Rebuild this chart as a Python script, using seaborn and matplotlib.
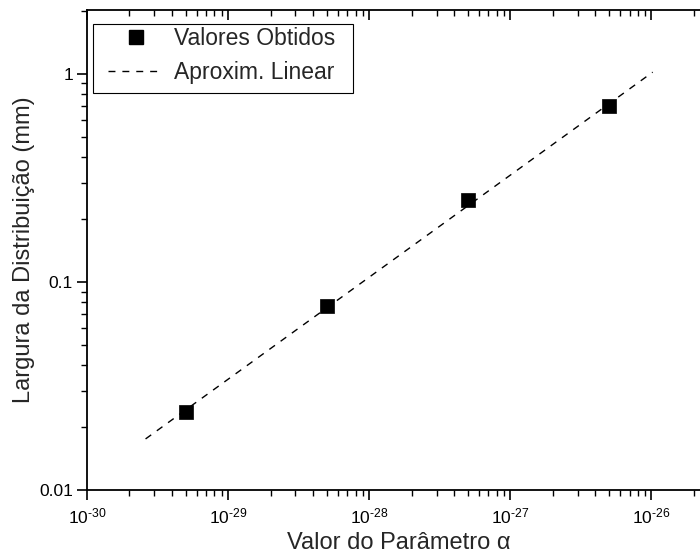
import numpy as np
import pandas as pd
import matplotlib
matplotlib.use("Agg")
import matplotlib.pyplot as plt
import seaborn as sns
from matplotlib.ticker import FixedLocator, FixedFormatter, LogLocator, NullFormatter
from matplotlib.lines import Line2D
from matplotlib.patches import Rectangle

# Measured widths versus the alpha parameter
alpha_vals = [5e-30, 5e-29, 5e-28, 5e-27]
widths_mm = [0.0237, 0.077, 0.248, 0.70]

# Endpoints of the linear (log-log) approximation
fit_alpha = [2.6e-30, 1.02e-26]
fit_width = [0.0176, 1.02]

x_ticks = [1e-30, 1e-29, 1e-28, 1e-27, 1e-26]
x_tick_labels = ["10$^{\u201030}$", "10$^{\u201029}$", "10$^{\u201028}$",
                 "10$^{\u201027}$", "10$^{\u201026}$"]
y_ticks = [0.01, 0.1, 1]
y_tick_labels = ["0.01", "0.1", "1"]

sns.set_style("white")
plt.rcParams["font.family"] = ["Liberation Sans", "DejaVu Sans"]
plt.rcParams["mathtext.fontset"] = "custom"
plt.rcParams["mathtext.rm"] = "Liberation Sans"
plt.rcParams["mathtext.it"] = "Liberation Sans"
plt.rcParams["mathtext.default"] = "regular"
plt.rcParams["axes.unicode_minus"] = False

points = pd.DataFrame({"alpha": alpha_vals, "width": widths_mm})
fit = pd.DataFrame({"alpha": fit_alpha, "width": fit_width})

W, H = 700, 554
fig = plt.figure(figsize=(W / 100, H / 100), dpi=100)
ax = fig.add_axes([87 / W, 64 / H, 623 / W, 480 / H])
ax.set_xscale("log")
ax.set_yscale("log")

sns.lineplot(data=fit, x="alpha", y="width", ax=ax, color="black",
             linewidth=1.0, linestyle=(0, (5, 5)))
sns.scatterplot(data=points, x="alpha", y="width", ax=ax, marker="s",
                s=110, color="black", edgecolor="black", linewidth=0.5, zorder=3)

ax.set_xlim(1e-30, 2.6e-26)
ax.set_ylim(0.01, 2.03)

ax.xaxis.set_major_locator(FixedLocator(x_ticks))
ax.xaxis.set_major_formatter(FixedFormatter(x_tick_labels))
ax.xaxis.set_minor_locator(LogLocator(base=10, subs=np.arange(2, 10), numticks=50))
ax.xaxis.set_minor_formatter(NullFormatter())
ax.yaxis.set_major_locator(FixedLocator(y_ticks))
ax.yaxis.set_major_formatter(FixedFormatter(y_tick_labels))
ax.yaxis.set_minor_locator(LogLocator(base=10, subs=np.arange(2, 10), numticks=50))
ax.yaxis.set_minor_formatter(NullFormatter())

for side in ["left", "bottom", "top", "right"]:
    ax.spines[side].set_visible(True)
    ax.spines[side].set_color("black")
    ax.spines[side].set_linewidth(1.3)

ax.tick_params(axis="both", which="major", direction="out", length=7, width=1.2,
               colors="black", labelsize=12.5)
ax.tick_params(axis="both", which="minor", direction="out", length=4, width=1.0,
               colors="black")
ax.tick_params(axis="x", which="both", bottom=True, top=True)
ax.tick_params(axis="x", which="major", pad=5)
ax.tick_params(axis="y", which="both", left=True, right=True)
ax.tick_params(axis="y", which="major", pad=3)
# ticks mirrored on top/right point inward
for t in ax.xaxis.get_major_ticks() + ax.xaxis.get_minor_ticks():
    t.tick2line.set_marker(3)
for t in ax.yaxis.get_major_ticks() + ax.yaxis.get_minor_ticks():
    t.tick2line.set_marker(0)

ax.set_xlabel("Valor do Parâmetro α", fontsize=17, labelpad=4)
ax.set_ylabel("Largura da Distribuição (mm)", fontsize=17, labelpad=3)

# legend entries, with a separate frame drawn around them
handles = [
    Line2D([], [], marker="s", color="black", linestyle="none", markersize=10),
    Line2D([], [], color="black", linewidth=1.0, linestyle=(0, (5, 5))),
]
leg = fig.legend(handles, ["Valores Obtidos", "Aproxim. Linear"], loc="upper left",
                 bbox_to_anchor=(108 / W, 1 - 27 / H), bbox_transform=fig.transFigure,
                 frameon=False, fontsize=16.5, borderpad=0.0, handlelength=2.4,
                 handletextpad=0.5, labelspacing=0.5, borderaxespad=0.0)
fig.patches.append(Rectangle((93 / W, 1 - 93 / H), 260 / W, 69 / H,
                             transform=fig.transFigure, fill=True, facecolor="white",
                             edgecolor="black", linewidth=0.8, zorder=4))
leg.set_zorder(5)

fig.savefig("out.png", dpi=100)
